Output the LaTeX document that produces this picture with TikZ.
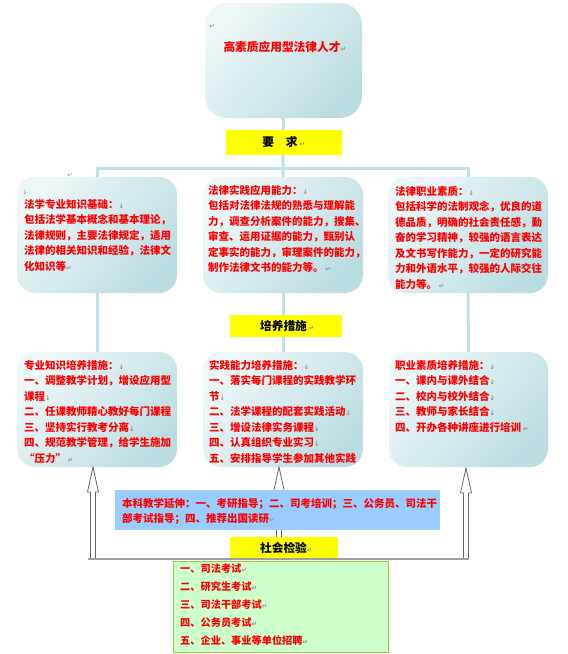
\documentclass[tikz,border=0pt]{standalone}
\usepackage{fontspec}
\usetikzlibrary{calc}
\newfontfamily\cjk{Noto Sans CJK SC}
\newfontfamily\mkfont{DejaVu Sans}
\definecolor{cline}{HTML}{BFE0E4}
\definecolor{boxA}{HTML}{EEF7F8}
\definecolor{boxB}{HTML}{BBDDE1}
\definecolor{ylw}{HTML}{FFFF00}
\definecolor{blu}{HTML}{99CCFF}
\definecolor{grn}{HTML}{CCFFCC}
\definecolor{grnline}{HTML}{99CC33}
\definecolor{rd}{HTML}{FF0000}
\definecolor{pm}{HTML}{909090}
\definecolor{gline}{HTML}{A0A0A0}
\pgfdeclarelayer{bg}
\pgfsetlayers{bg,main}
\newcommand\pmR{{\mkfont\fontsize{6.5}{6.5}\selectfont\textcolor{pm}{↵}}}
\newcommand\pmD{{\mkfont\fontsize{6.5}{6.5}\selectfont\textcolor{pm}{↓}}}
\newcommand\openarrow[2]{%
  \draw[arrline] ({#1},{#2}) -- ({#1-5.5},{#2+25}) -- ({#1-2.5},{#2+25}) -- ({#1-2.5},559)
    -- ({#1+2.5},559) -- ({#1+2.5},{#2+25}) -- ({#1+5.5},{#2+25}) -- cycle;}
\tikzset{
  conn/.style={draw=cline, line width=3pt},
  rbox/.style={rounded corners=18pt, left color=boxA, right color=boxB, shading angle=50, draw=none, inner sep=0pt},
  ybox/.style={fill=ylw, draw=none, inner sep=0pt},
  ylab/.style={inner sep=0pt, text=black, font=\cjk\bfseries\fontsize{11.7}{12}\selectfont},
  body/.style={anchor=north west, inner sep=0pt, align=left, text=rd, font=\cjk\bfseries\fontsize{10.5}{15.5}\selectfont},
  pmk/.style={inner sep=0pt},
  arrline/.style={draw=black!60, fill=white, line width=0.8pt, line join=miter},
  grayline/.style={draw=gline, line width=2pt},
}
\begin{document}
\begin{tikzpicture}[x=1pt,y=-1pt]
\useasboundingbox (0,0) rectangle (568,654);
% boxes
\path (283.5,60.5) node[rbox, minimum width=157pt, minimum height=115pt, rounded corners=22pt] (top) {};
\path (97,235) node[rbox, minimum width=160pt, minimum height=116pt] (l1) {};
\path (283,235) node[rbox, minimum width=160pt, minimum height=116pt] (m1) {};
\path (468,235) node[rbox, minimum width=160pt, minimum height=116pt] (r1) {};
\path (97,409.5) node[rbox, minimum width=160pt, minimum height=115pt] (l2) {};
\path (283,409.5) node[rbox, minimum width=160pt, minimum height=115pt] (m2) {};
\path (468.5,409.5) node[rbox, minimum width=159pt, minimum height=115pt] (r2) {};
% connectors behind boxes
\coordinate (hub) at (283,168);
\begin{pgfonlayer}{bg}
\draw[conn] (top.south) -- (m1.north);
\draw[conn] (l1.north) |- (hub) -| (r1.north);
\draw[conn] (l1.south) -- (l2.north);
\draw[conn] (m1.south) -- (m2.north);
\draw[conn] (r1.south) -- (r2.north);
\end{pgfonlayer}
% title
\node[pmk] (pmtop) at (212,26) {\pmR};
\node[inner sep=0pt, text=rd, font=\cjk\bfseries\fontsize{11.7}{12}\selectfont] (title) at (282,47) {高素质应用型法律人才\rlap{\pmR}};
% yellow labels
\node[ybox, minimum width=116pt, minimum height=25pt] (req) at (284,142.5) {};
\node[ylab] (reqt) at (280,142.5) {要　求\rlap{\,\pmR}};
\node[ybox, minimum width=112pt, minimum height=22pt] (mea) at (286,326) {};
\node[ylab] (meat) at (283.5,326) {培养措施\rlap{\,\pmR}};
% row 1 texts
\node[pmk] (pmA) at (70,175) {\pmR};
\node[pmk] (pmB) at (25,192) {\pmD};
\node[body] (t1) at (24,199) {法学专业知识基础：\pmD\\包括法学基本概念和基本理论，\\法律规则，主要法律规定，适用\\法律的相关知识和经验，法律文\\化知识等\pmR};
\node[body] (t2) at (208,185) {法律实践应用能力：\pmD\\包括对法律法规的熟悉与理解能\\力，调查分析案件的能力，搜集、\\审查、运用证据的能力，甄别认\\定事实的能力，审理案件的能力，\\制作法律文书的能力等。\,\pmR};
\node[body] (t3) at (395,186) {法律职业素质：\pmD\\包括科学的法制观念，优良的道\\德品质，明确的社会责任感，勤\\奋的学习精神，较强的语言表达\\及文书写作能力，一定的研究能\\力和外语水平，较强的人际交往\\能力等。\,\pmR};
% row 2 texts
\node[body] (t4) at (24,360) {专业知识培养措施：\pmD\\一、调整教学计划，增设应用型\\课程\pmD\\二、任课教师精心教好每门课程\\三、坚持实行教考分离\pmD\\四、规范教学管理，给学生施加\\“压力”\,\pmR};
\node[body] (t5) at (209,360) {实践能力培养措施：\pmD\\一、落实每门课程的实践教学环\\节\pmD\\二、法学课程的配套实践活动\pmD\\三、增设法律实务课程\pmD\\四、认真组织专业实习\pmD\\五、安排指导学生参加其他实践};
\node[body] (t6) at (395,360) {职业素质培养措施：\pmD\\一、课内与课外结合\pmD\\二、校内与校外结合\pmD\\三、教师与家长结合\pmD\\四、开办各种讲座进行培训\,\pmR};
% arrows
\openarrow{93}{467}
\openarrow{279}{467}
\openarrow{466}{468}
% blue extension box
\node[fill=blu, draw=none, inner sep=0pt, minimum width=325pt, minimum height=40pt] (ext) at (277.5,510) {};
\node[body] (ext-t) at (122,498) {本科教学延伸：一、考研指导；二、司考培训；三、公务员、司法干\\部考试指导；四、推荐出国读研\pmR};
% green box
\node[fill=grn, draw=grnline, line width=1pt, inner sep=0pt, minimum width=215pt, minimum height=91pt] (exam) at (280.5,606.5) {};
\node[body, font=\cjk\bfseries\fontsize{10.2}{18}\selectfont] (exam-t) at (180,564) {一、司法考试\pmR\\二、研究生考试\pmR\\三、司法干部考试\pmR\\四、公务员考试\pmR\\五、企业、事业等单位招聘\pmR};
% bottom line and yellow label
\coordinate (lineL) at (88,559);
\coordinate (lineR) at (468.5,559);
\draw[grayline] (lineL) -- (lineR);
\node[ybox, minimum width=108pt, minimum height=21pt] (soc) at (284,547.5) {};
\node[ylab] (soct) at (283.5,547.5) {社会检验\rlap{\pmR}};
\end{tikzpicture}
\end{document}
